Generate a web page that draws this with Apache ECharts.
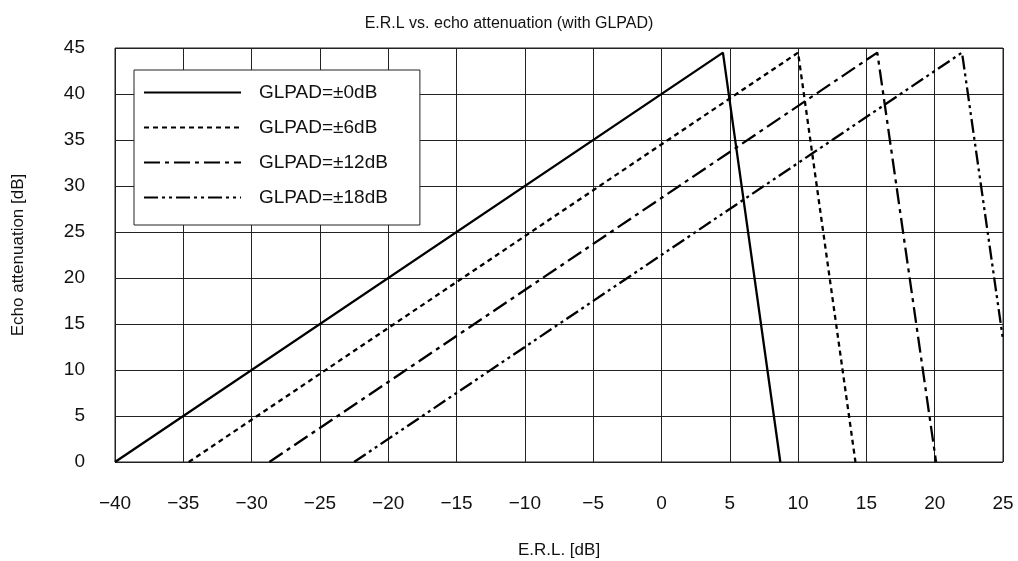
<!DOCTYPE html>
<html>
<head>
<meta charset="utf-8">
<script src="https://cdn.jsdelivr.net/npm/echarts@6/dist/echarts.min.js"></script>
<style>
  html, body { margin: 0; padding: 0; background: #fff; }
  #main { width: 1018px; height: 561px; }
</style>
</head>
<body>
<div id="main"></div>
<script>
// E.R.L vs echo attenuation, one line per GLPAD setting
const seriesNames = ['GLPAD=±0dB', 'GLPAD=±6dB', 'GLPAD=±12dB', 'GLPAD=±18dB'];
const pad0 = [[-40, 0], [4.5, 44.5], [8.7, 0]];
const pad6 = [[-34.6, 0], [10, 44.5], [14.2, 0]];
const pad12 = [[-28.7, 0], [15.8, 44.5], [20.1, 0]];
const pad18 = [[-22.5, 0], [22, 44.5], [25, 13.3]];

const FONT = '"Liberation Sans", Arial, sans-serif';
const INK = '#111';
const GRIDC = '#222';

// dash patterns (solid, dotted, dash-dot, dash-dot-dot)
const dashes = ['solid', [5, 4], [16, 5, 4, 5], [14, 4, 3, 4, 3, 4]];
const allData = [pad0, pad6, pad12, pad18];

const chart = echarts.init(document.getElementById('main'), null, { renderer: 'canvas' });

const option = {
  backgroundColor: '#fff',
  animation: false,
  title: {
    text: 'E.R.L vs. echo attenuation (with GLPAD)',
    left: 'center',
    top: 11,
    textStyle: { fontFamily: FONT, fontSize: 16, fontWeight: 'normal', color: INK }
  },
  legend: {
    orient: 'vertical',
    left: 134,
    top: 70,
    padding: [13, 32, 18, 9],
    itemWidth: 97,
    itemHeight: 20,
    itemGap: 16,
    borderColor: GRIDC,
    borderWidth: 1,
    backgroundColor: '#fff',
    itemStyle: { opacity: 0 },
    data: seriesNames,
    textStyle: { fontFamily: FONT, fontSize: 19, color: INK, padding: [0, 0, 0, 13] }
  },
  grid: {
    left: 115, right: 15, top: 48, bottom: 99,
    containLabel: false, outerBoundsMode: 'none',
    show: true, borderColor: GRIDC, borderWidth: 1
  },
  xAxis: {
    type: 'value',
    min: -40, max: 25, interval: 5,
    name: 'E.R.L. [dB]',
    nameLocation: 'middle',
    nameGap: 80,
    nameTextStyle: { fontFamily: FONT, fontSize: 17, color: INK },
    axisLine: { show: false },
    axisTick: { show: false },
    axisLabel: {
      margin: 32,
      fontFamily: FONT, fontSize: 19, color: INK,
      formatter: v => (v < 0 ? '\u2212' + Math.abs(v) : String(v))
    },
    splitLine: { lineStyle: { color: GRIDC, width: 1 } }
  },
  yAxis: {
    type: 'value',
    min: 0, max: 45, interval: 5,
    name: 'Echo attenuation [dB]',
    nameLocation: 'middle',
    nameGap: 88,
    nameTextStyle: { fontFamily: FONT, fontSize: 17, color: INK },
    axisLine: { show: false },
    axisTick: { show: false },
    axisLabel: { margin: 30, fontFamily: FONT, fontSize: 19, color: INK },
    splitLine: { lineStyle: { color: GRIDC, width: 1 } }
  },
  series: seriesNames.map((n, i) => ({
    name: n,
    type: 'line',
    data: allData[i],
    symbol: 'none',
    clip: true,
    color: '#000',
    lineStyle: { color: '#000', width: 2.3, type: dashes[i] }
  }))
};

chart.setOption(option);
</script>
</body>
</html>
